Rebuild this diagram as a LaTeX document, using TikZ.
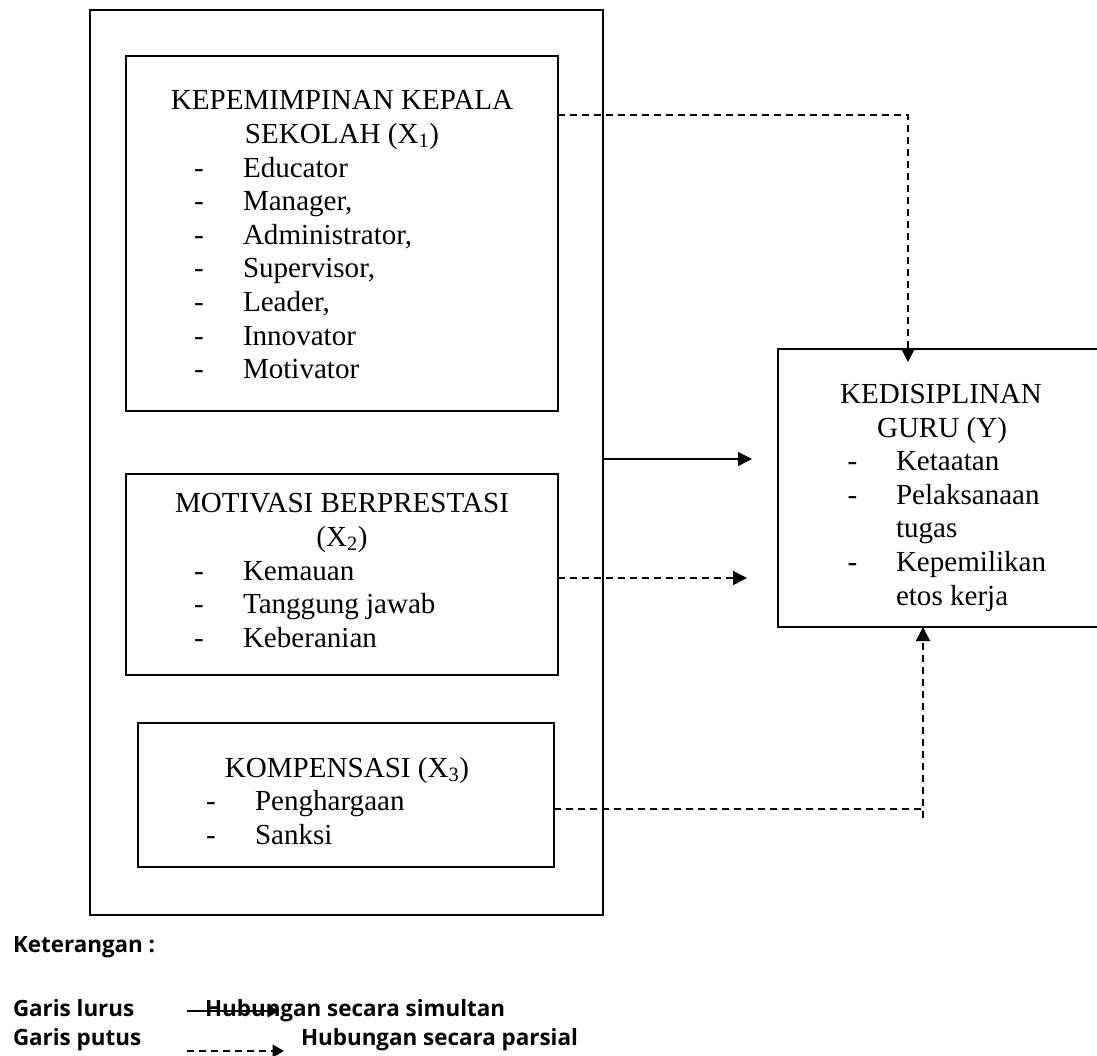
\documentclass[tikz,border=0pt]{standalone}
\usepackage{fontspec}
\setmainfont{Liberation Serif}
\newfontfamily\legendfont{Open Sans}
\usetikzlibrary{arrows.meta}
\begin{document}
\begin{tikzpicture}[x=0.75pt,y=-0.75pt,
  box/.style={draw, line width=1.1pt, inner sep=0pt, outer sep=0pt},
  txt/.style={inner sep=0pt, outer sep=0pt, font=\fontsize{21.8}{25}\selectfont},
  ttl/.style={txt, anchor=base},
  itm/.style={txt, anchor=base west},
  dsh/.style={txt, anchor=base},
  leg/.style={inner sep=0pt, outer sep=0pt, anchor=base west, font=\legendfont\bfseries\fontsize{16.8}{20}\selectfont},
  conn/.style={line width=1.1pt},
  dconn/.style={line width=1.1pt, dash pattern=on 5.4pt off 3.6pt},
  tip/.style={-{Triangle[length=10.5pt,width=10.5pt]}},
  ltip/.style={-{Triangle[length=8.5pt,width=9.5pt]}}
]
\useasboundingbox (0,0) rectangle (1097,1056);
\clip (0,0) rectangle (1097,1056);

% boxes
\node[box, minimum width=513*0.75pt, minimum height=905*0.75pt] (outer) at (346.5,462.5) {};
\node[box, minimum width=432*0.75pt, minimum height=355*0.75pt] (X1) at (342,233.5) {};
\node[box, minimum width=432*0.75pt, minimum height=201*0.75pt] (X2) at (342,574.5) {};
\node[box, minimum width=416*0.75pt, minimum height=144*0.75pt] (X3) at (346,795) {};
\node[box, minimum width=322*0.75pt, minimum height=278*0.75pt] (Y) at (939,488) {};

% X1 text
\node[ttl] (x1a) at (342,110) {KEPEMIMPINAN KEPALA};
\node[ttl] (x1b) at (342,143.6) {SEKOLAH (X\textsubscript{1})};
\foreach \t/\yy [count=\i] in {Educator/177, {Manager,}/210.6, {Administrator,}/244.2, {Supervisor,}/277.8, {Leader,}/311.4, Innovator/345, Motivator/378.6}{
  \node[dsh] (x1d\i) at (199,\yy) {-};
  \node[itm] (x1i\i) at (243,\yy) {\t};
}

% X2 text
\node[ttl] (x2a) at (342,512) {MOTIVASI BERPRESTASI};
\node[ttl] (x2b) at (342,546) {(X\textsubscript{2})};
\foreach \t/\yy [count=\i] in {Kemauan/580, Tanggung jawab/613.5, Keberanian/647}{
  \node[dsh] (x2d\i) at (199,\yy) {-};
  \node[itm] (x2i\i) at (243,\yy) {\t};
}

% X3 text
\node[ttl] (x3a) at (347,777) {KOMPENSASI (X\textsubscript{3})};
\foreach \t/\yy [count=\i] in {Penghargaan/810.5, Sanksi/844}{
  \node[dsh] (x3d\i) at (211,\yy) {-};
  \node[itm] (x3i\i) at (255,\yy) {\t};
}

% Y text
\node[ttl] (ya) at (941,403) {KEDISIPLINAN};
\node[ttl] (yb) at (942,437) {GURU (Y)};
\node[dsh] (yd1) at (852.5,470.5) {-};
\node[itm] (yi1) at (896,470.5) {Ketaatan};
\node[dsh] (yd2) at (852.5,504) {-};
\node[itm] (yi2) at (896,504) {Pelaksanaan};
\node[itm] (yi3) at (896,537.5) {tugas};
\node[dsh] (yd3) at (852.5,571.5) {-};
\node[itm] (yi4) at (896,571.5) {Kepemilikan};
\node[itm] (yi5) at (896,605) {etos kerja};

% connectors
\coordinate (k1) at (908,115);
\draw[dconn, tip, shorten >=-9.75pt] (X1.east |- k1) -- (k1) -- (Y.north -| k1);

\coordinate (s1) at (752,459);
\draw[conn, tip] (outer.east |- s1) -- (s1);

\coordinate (p2) at (747,578);
\draw[dconn, tip] (X2.east |- p2) -- (p2);

\coordinate (k3) at (923,809);
\coordinate (k3b) at (923,818);
\draw[dconn] (X3.east |- k3) -- (k3);
\draw[dconn, tip] (k3b) -- (Y.south -| k3b);

% legend
\node[leg] (ket) at (13,952) {Keterangan :};
\node[leg] (gl) at (13,1016) {Garis lurus};
\node[leg] (gp) at (13,1045) {Garis putus};
\node[leg] (hs) at (205,1016) {Hubungan secara simultan};
\node[leg] (hp) at (301,1045) {Hubungan secara parsial};
\coordinate (ls1) at (187,1011);
\coordinate (ls2) at (279,1011);
\draw[conn, ltip] (ls1) -- (ls2);
\coordinate (lp1) at (187,1051);
\coordinate (lp2) at (284,1051);
\draw[dconn, ltip] (lp1) -- (lp2);
\end{tikzpicture}
\end{document}
